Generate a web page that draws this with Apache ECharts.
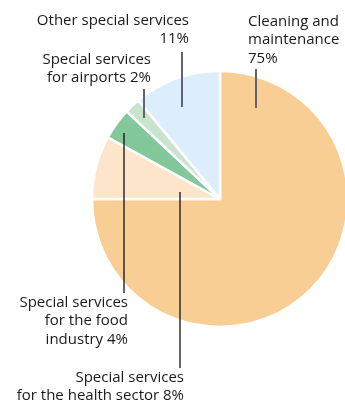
<!DOCTYPE html>
<html>
<head>
<meta charset="utf-8">
<script src="https://cdn.jsdelivr.net/npm/echarts@6/dist/echarts.min.js"></script>
<style>
  html, body { margin: 0; padding: 0; background: #fff; }
  #main { width: 345px; height: 403px; }
</style>
</head>
<body>
<div id="main"></div>
<script>
    // 数据
    var names = [
        'Cleaning and\nmaintenance\n',
        'Special services\nfor the health sector ',
        'Special services\nfor the food\nindustry ',
        'Special services\nfor airports ',
        'Other special services\n'
    ];
    var values = [75, 8, 4, 2, 11];
    var colors = ['#F9CE95', '#FDE5CB', '#82C89A', '#C8E4CD', '#DCEDFB'];

    // 标签位置 [x, y, 对齐] 和引线 [x, y起, y止]
    var labelPos = [
        [248, 12, 'left'],
        [184, 368, 'right'],
        [128, 293, 'right'],
        [151, 50, 'right'],
        [189, 11, 'right']
    ];
    var leader = [
        [256, 108, 69],
        [180, 192, 368],
        [124, 133, 293],
        [144, 118, 89],
        [182, 107, 52]
    ];
    var lineColors = ['#5C6670', '#111', '#111', '#5C6670', '#5C6670'];
    var lineWidths = [2, 1.3, 1.3, 2, 2];

    var myChart = echarts.init(document.getElementById('main'));

    var data = values.map(function (v, i) {
        return {
            value: v,
            name: names[i],
            itemStyle: { color: colors[i] },
            label: { align: labelPos[i][2] }
        };
    });

    // 引线用 graphic 画
    var lines = leader.map(function (l, i) {
        return {
            type: 'line',
            shape: { x1: l[0], y1: l[1], x2: l[0], y2: l[2] },
            style: { stroke: lineColors[i], lineWidth: lineWidths[i] },
            z: 10
        };
    });

    var option = {
        animation: false,
        graphic: lines,
        series: [
            {
                type: 'pie',
                center: [220, 199],
                radius: [0, 128],
                startAngle: 90,
                clockwise: true,
                avoidLabelOverlap: false,
                itemStyle: {
                    borderColor: '#fff',
                    borderWidth: 2.5
                },
                label: {
                    show: true,
                    position: 'outside',
                    fontFamily: 'Open Sans',
                    fontSize: 15,
                    lineHeight: 18.5,
                    color: '#1a1a1a',
                    formatter: function (p) {
                        return p.name + p.value + '%';
                    }
                },
                labelLine: { show: false },
                labelLayout: function (params) {
                    var i = params.dataIndex;
                    return {
                        x: labelPos[i][0],
                        y: labelPos[i][1],
                        align: labelPos[i][2],
                        verticalAlign: 'top'
                    };
                },
                emphasis: { disabled: true },
                data: data
            }
        ]
    };
    myChart.setOption(option);
</script>
</body>
</html>
